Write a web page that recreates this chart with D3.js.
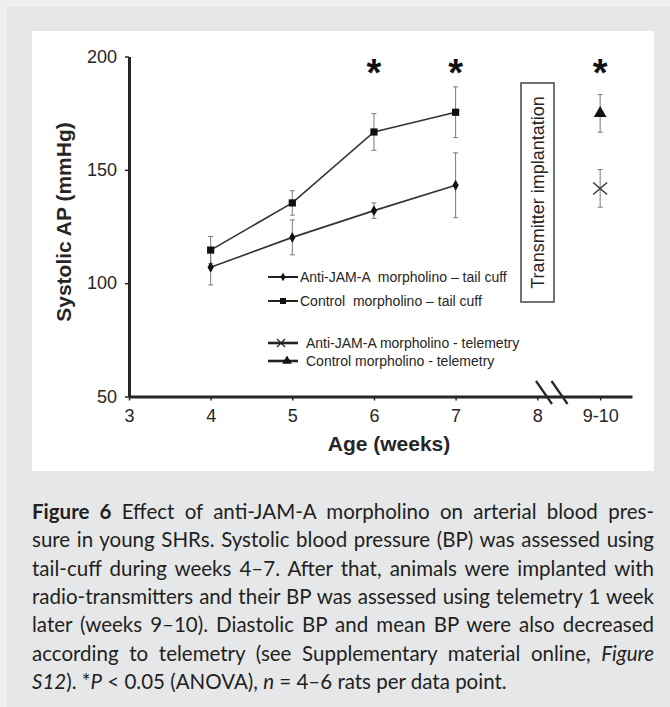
<!DOCTYPE html>
<html>
<head>
<meta charset="utf-8">
<script src="https://cdn.jsdelivr.net/npm/d3@7"></script>
<style>
body { margin: 0; background: #e6e7e9; }
svg { display: block; }
</style>
</head>
<body>
<div id="chart"></div>
<script>
// tail cuff, weeks 4-7
const weeks = [4, 5, 6, 7];
const antiJamTailCuff = [107, 120.2, 132, 143.2];
const antiJamTailCuffErr = [7.8, 7.7, 3.4, 14.3];
const controlTailCuff = [114.6, 135.4, 166.7, 175.4];
const controlTailCuffErr = [6, 5.4, 8.1, 11.2];

// telemetry, weeks 9-10 (drawn after the axis break)
const telemetryWeek = 8.77;
const antiJamTelemetry = [141.8];
const antiJamTelemetryErr = [8.3];
const controlTelemetry = [174.9];
const controlTelemetryErr = [8.3];

const xTickValues = [3, 4, 5, 6, 7, 8, 8.77];
const xTickLabels = ['3', '4', '5', '6', '7', '8', '9-10'];
const yTickValues = [50, 100, 150, 200];
const starWeeks = [6, 7, 8.77];

const legendLabels = [
    'Anti-JAM-A  morpholino \u2013 tail cuff',
    'Control  morpholino \u2013 tail cuff',
    'Anti-JAM-A morpholino - telemetry',
    'Control morpholino - telemetry'
];

// caption, one entry per printed line: [text, style]
const captionLines = [
    [['Figure 6', 'b'], ['\u2002Effect of anti-JAM-A morpholino on arterial blood pres-', '']],
    [['sure in young SHRs. Systolic blood pressure (BP) was assessed using', '']],
    [['tail-cuff during weeks 4\u20137. After that, animals were implanted with', '']],
    [['radio-transmitters and their BP was assessed using telemetry 1 week', '']],
    [['later (weeks 9\u201310). Diastolic BP and mean BP were also decreased', '']],
    [['according to telemetry (see Supplementary material online, ', ''], ['Figure', 'i']],
    [['S12', 'i'], ['). *', ''], ['P', 'i'], [' < 0.05 (ANOVA), ', ''], ['n', 'i'], [' = 4\u20136 rats per data point.', '']]
];

const W = 670, H = 707;
const INK = '#262626';
const FONT = '"Liberation Sans", Arial, sans-serif';

const svg = d3.select('#chart').append('svg')
    .attr('width', W)
    .attr('height', H);

// page frame
svg.append('rect').attr('width', W).attr('height', H).attr('fill', '#eeeff0');
svg.append('rect').attr('x', 7).attr('y', 7).attr('width', W - 7).attr('height', H - 7).attr('fill', '#e6e7e9');
svg.append('rect').attr('x', 32).attr('y', 31).attr('width', 622).attr('height', 440).attr('fill', '#ffffff');

const x = d3.scaleLinear().domain([3, 9.16]).range([129, 632]);
const y = d3.scaleLinear().domain([50, 200]).range([396.5, 56.5]);

// axes
const yAxis = svg.append('g')
    .attr('transform', 'translate(' + x(3) + ',0)')
    .call(d3.axisLeft(y).tickValues(yTickValues).tickSize(4).tickSizeOuter(0).tickPadding(8));
const xAxis = svg.append('g')
    .attr('transform', 'translate(0,' + y(50) + ')')
    .call(d3.axisBottom(x).tickValues(xTickValues).tickFormat((d, i) => xTickLabels[i]).tickSize(4).tickSizeOuter(0).tickPadding(9));

[yAxis, xAxis].forEach(function(g) {
    g.select('.domain').attr('stroke', INK).attr('stroke-width', 3);
    g.selectAll('.tick line').attr('stroke', INK).attr('stroke-width', 1.5);
    g.selectAll('.tick text').attr('fill', INK).style('font-family', FONT).style('font-size', '18px');
});

// axis break
[0, 15.5].forEach(function(dx) {
    svg.append('line')
        .attr('x1', 536 + dx).attr('y1', 381)
        .attr('x2', 552 + dx).attr('y2', 404)
        .attr('stroke', INK).attr('stroke-width', 2.2);
});

// axis titles
svg.append('text')
    .attr('transform', 'translate(71,222) rotate(-90)')
    .attr('text-anchor', 'middle')
    .style('font-family', FONT).style('font-weight', 'bold').style('font-size', '21px')
    .attr('fill', INK)
    .text('Systolic AP (mmHg)');
svg.append('text')
    .attr('x', 389).attr('y', 451)
    .attr('text-anchor', 'middle')
    .style('font-family', FONT).style('font-weight', 'bold').style('font-size', '21px')
    .attr('fill', INK)
    .text('Age (weeks)');

// error bars
function errorBars(xs, vals, errs) {
    const g = svg.append('g').attr('stroke', '#7a7a7a').attr('stroke-width', 1);
    vals.forEach(function(v, i) {
        const cx = x(xs[i]);
        g.append('line').attr('x1', cx).attr('x2', cx).attr('y1', y(v - errs[i])).attr('y2', y(v + errs[i]));
        [v - errs[i], v + errs[i]].forEach(function(e) {
            g.append('line').attr('x1', cx - 2.5).attr('x2', cx + 2.5).attr('y1', y(e)).attr('y2', y(e));
        });
    });
}
errorBars(weeks, controlTailCuff, controlTailCuffErr);
errorBars(weeks, antiJamTailCuff, antiJamTailCuffErr);
errorBars([telemetryWeek], controlTelemetry, controlTelemetryErr);
errorBars([telemetryWeek], antiJamTelemetry, antiJamTelemetryErr);

// series lines
const line = d3.line().x(d => x(d[0])).y(d => y(d[1]));
[controlTailCuff, antiJamTailCuff].forEach(function(vals) {
    svg.append('path')
        .datum(weeks.map((w, i) => [w, vals[i]]))
        .attr('d', line)
        .attr('fill', 'none')
        .attr('stroke', '#333')
        .attr('stroke-width', 1.6);
});

// markers
const squareSym = d3.symbol().type(d3.symbolSquare).size(52);
const diamondSym = d3.symbol().type(d3.symbolDiamond).size(34);
const triangleSym = d3.symbol().type(d3.symbolTriangle).size(70);

function drawMarker(g, kind, cx, cy) {
    if (kind === 'x') {
        g.append('path')
            .attr('d', 'M' + (cx - 7) + ',' + (cy - 6) + 'L' + (cx + 7) + ',' + (cy + 6) + 'M' + (cx - 7) + ',' + (cy + 6) + 'L' + (cx + 7) + ',' + (cy - 6))
            .attr('stroke', '#333').attr('stroke-width', 1.4).attr('fill', 'none');
        return;
    }
    const sym = kind === 'square' ? squareSym : kind === 'diamond' ? diamondSym : triangleSym;
    g.append('path')
        .attr('d', sym())
        .attr('transform', 'translate(' + cx + ',' + cy + ')')
        .attr('fill', '#111');
}

const markers = svg.append('g');
weeks.forEach(function(w, i) {
    drawMarker(markers, 'square', x(w), y(controlTailCuff[i]));
    drawMarker(markers, 'diamond', x(w), y(antiJamTailCuff[i]));
});
drawMarker(markers, 'triangle', x(telemetryWeek), y(controlTelemetry[0]));
drawMarker(markers, 'x', x(telemetryWeek), y(antiJamTelemetry[0]));

// significance stars
svg.selectAll('text.star')
    .data(starWeeks)
    .enter()
    .append('text')
    .attr('class', 'star')
    .attr('x', d => x(d))
    .attr('y', 86)
    .attr('text-anchor', 'middle')
    .style('font-family', FONT).style('font-weight', 'bold').style('font-size', '38px')
    .attr('fill', '#111')
    .text('*');

// transmitter implantation box
svg.append('rect')
    .attr('x', 521).attr('y', 83).attr('width', 33).attr('height', 219)
    .attr('fill', 'none').attr('stroke', '#444').attr('stroke-width', 1.5);
svg.append('text')
    .attr('transform', 'translate(543.5,192.5) rotate(-90)')
    .attr('text-anchor', 'middle')
    .style('font-family', FONT).style('font-size', '18px')
    .attr('fill', INK)
    .text('Transmitter implantation');

// legend
const legendRows = [
    { y: 277, kind: 'diamond', mx: 283, tx: 300 },
    { y: 301, kind: 'square', mx: 283, tx: 300 },
    { y: 343, kind: 'x', mx: 281, tx: 306 },
    { y: 361, kind: 'triangle', mx: 287, tx: 306 }
];
const legend = svg.append('g');
legendRows.forEach(function(r, i) {
    legend.append('line')
        .attr('x1', 268).attr('x2', 298).attr('y1', r.y).attr('y2', r.y)
        .attr('stroke', '#222').attr('stroke-width', i < 2 ? 2 : 2.6);
    if (r.kind === 'x') {
        legend.append('path')
            .attr('d', 'M' + (r.mx - 4) + ',' + (r.y - 4) + 'L' + (r.mx + 4) + ',' + (r.y + 4) + 'M' + (r.mx - 4) + ',' + (r.y + 4) + 'L' + (r.mx + 4) + ',' + (r.y - 4))
            .attr('stroke', '#222').attr('stroke-width', 1.2);
    } else {
        const sym = r.kind === 'square' ? d3.symbol().type(d3.symbolSquare).size(36)
            : r.kind === 'diamond' ? d3.symbol().type(d3.symbolDiamond).size(22)
            : d3.symbol().type(d3.symbolTriangle).size(40);
        legend.append('path').attr('d', sym()).attr('transform', 'translate(' + r.mx + ',' + r.y + ')').attr('fill', '#111');
    }
    legend.append('text')
        .attr('x', r.tx).attr('y', r.y + 5)
        .style('font-family', FONT).style('font-size', '14px').style('white-space', 'pre')
        .attr('fill', INK)
        .text(legendLabels[i]);
});

// caption, justified line by line
const CAP_X = 32, CAP_W = 622, CAP_Y0 = 519, CAP_LH = 28.3;
captionLines.forEach(function(segs, li) {
    const t = svg.append('text')
        .attr('x', CAP_X).attr('y', CAP_Y0 + li * CAP_LH)
        .style('font-family', 'Lato, "Open Sans", sans-serif')
        .style('font-size', '20.5px')
        .style('white-space', 'pre')
        .attr('fill', '#231f20');
    segs.forEach(function(s) {
        t.append('tspan')
            .style('font-weight', s[1] === 'b' ? 'bold' : 'normal')
            .style('font-style', s[1] === 'i' ? 'italic' : 'normal')
            .text(s[0]);
    });
    if (li < captionLines.length - 1) {
        const text = segs.map(s => s[0]).join('');
        const spaces = (text.match(/ /g) || []).length;
        const w = t.node().getComputedTextLength();
        if (spaces) t.style('word-spacing', ((CAP_W - w) / spaces) + 'px');
    }
});
</script>
</body>
</html>
